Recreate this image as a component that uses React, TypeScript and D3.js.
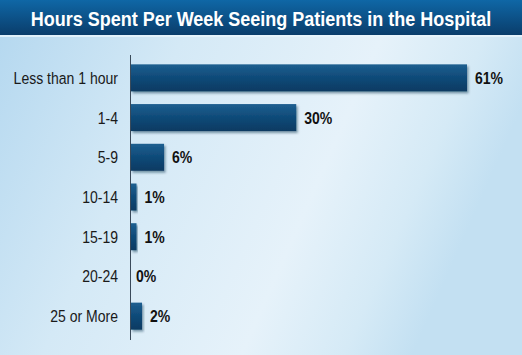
import React from "react";
import * as d3 from "d3";

const categories = ["Less than 1 hour", "1-4", "5-9", "10-14", "15-19", "20-24", "25 or More"];
const values = [61, 30, 6, 1, 1, 0, 2];
const valueLabels = ["61%", "30%", "6%", "1%", "1%", "0%", "2%"];
const title = "Hours Spent Per Week Seeing Patients in the Hospital";

const W = 522;
const H = 355;

export default function App() {
  const x0 = 131;
  const x = d3.scaleLinear().domain([0, 61]).range([x0, 467]);
  const y = d3.scaleBand().domain(categories).range([58, 336]).paddingInner(0.32).paddingOuter(0.16);
  const font = "'Liberation Sans', Arial, sans-serif";
  const sx = 0.85;
  const fs = 16.5;
  return (
    <svg width={W} height={H} style={{ position: "absolute", left: 0, top: 0, display: "block" }}>
      <defs>
        <linearGradient id="bg" x1="0" y1="0" x2="1" y2="0.3">
          <stop offset="0" stopColor="#b3d7ef" />
          <stop offset="0.35" stopColor="#d4e9f6" />
          <stop offset="0.7" stopColor="#e6f2fa" />
          <stop offset="0.88" stopColor="#d5eaf6" />
          <stop offset="1" stopColor="#c3e0f2" />
        </linearGradient>
        <linearGradient id="head" x1="0" y1="0" x2="0" y2="1">
          <stop offset="0" stopColor="#0f67a6" />
          <stop offset="1" stopColor="#0a3d6b" />
        </linearGradient>
        <linearGradient id="bar" x1="0" y1="0" x2="0" y2="1">
          <stop offset="0" stopColor="#1d5f90" />
          <stop offset="0.5" stopColor="#0f4a78" />
          <stop offset="1" stopColor="#093a62" />
        </linearGradient>
        <filter id="sh" x="-10%" y="-20%" width="130%" height="160%">
          <feDropShadow dx="1.5" dy="2" stdDeviation="1.2" floodColor="#0a2a45" floodOpacity="0.45" />
        </filter>
      </defs>
      <rect x={0} y={0} width={W} height={H} fill="url(#bg)" />
      <rect x={0} y={0} width={W} height={35} fill="url(#head)" />
      <rect x={0} y={35} width={W} height={2} fill="#e9f5fc" opacity={0.8} />
      <text
        transform={`translate(${W / 2},25.5) scale(0.9,1)`}
        textAnchor="middle"
        fill="#ffffff"
        fontFamily={font}
        fontWeight="bold"
        fontSize={20}
      >
        {title}
      </text>
      {categories.map((c, i) => {
        const yy = y(c)!;
        const bh = y.bandwidth();
        const w = x(values[i]) - x0;
        return (
          <g key={c}>
            {w > 0 && (
              <rect x={x0} y={yy} width={w} height={bh} fill="url(#bar)" filter="url(#sh)" />
            )}
            <text
              transform={`translate(118,${yy + bh / 2 + 6}) scale(${sx},1)`}
              textAnchor="end"
              fontFamily={font}
              fontSize={fs}
              fill="#1a1a1a"
            >
              {c}
            </text>
            <text
              transform={`translate(${x(values[i]) + (values[i] === 0 ? 5 : 8)},${yy + bh / 2 + 6}) scale(${sx},1)`}
              fontFamily={font}
              fontWeight="bold"
              fontSize={fs}
              fill="#111"
            >
              {valueLabels[i]}
            </text>
          </g>
        );
      })}
      <line x1={130.5} x2={130.5} y1={55} y2={340} stroke="#3a4a5a" strokeWidth={1} />
    </svg>
  );
}
